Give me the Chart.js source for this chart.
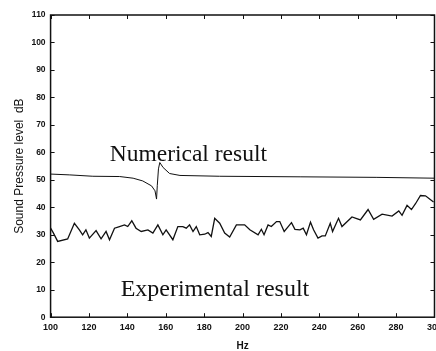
<!DOCTYPE html>
<html>
<head>
<meta charset="utf-8">
<script src="https://cdn.jsdelivr.net/npm/chart.js@4/dist/chart.umd.min.js"></script>
<style>
  html, body { margin:0; padding:0; background:#fff; overflow:hidden; }
  #wrap { position:relative; width:447px; height:351px; }
</style>
</head>
<body>
<div id="wrap"><canvas id="c"></canvas></div>
<script>
// ---- data ----
const expHz = [100, 101.5, 103.7, 108.9, 112.4, 115, 116.7, 118.4, 120.2, 123.7,
               126.3, 128.9, 130.7, 133.3, 135.9, 138.5, 140.2, 142.3, 144.5, 147.2,
               150.7, 153.3, 155.9, 158.5, 160.2, 163.7, 166.3, 168.9, 170.7, 172.4,
               174.2, 175.9, 177.7, 180.3, 182, 183.7, 185.5, 188.1, 190.7, 193.3,
               196.8, 201.1, 203.8, 208.1, 209.8, 211.2, 213.3, 215, 217.7, 219.4,
               221.7, 223.8, 225.5, 227.3, 229.9, 231.6, 233.3, 235.4, 237, 239.3,
               241.4, 243.1, 245.7, 246.9, 250, 251.8, 257, 261.4, 265.4, 268.3,
               272.7, 277.9, 281.4, 283.1, 285.7, 288, 290.1, 292.7, 295.3, 299.5];
const expDb = [32.4, 30.6, 27.6, 28.5, 34.2, 31.8, 30, 31.8, 28.8, 31.5,
               28.5, 31.2, 28.2, 32.4, 33, 33.6, 33, 35.1, 32.4, 31.2,
               31.8, 30.6, 33.6, 30, 31.8, 28.2, 33, 33, 32.4, 33.6,
               31.2, 33, 30, 30.2, 30.8, 29.4, 36, 34.2, 30.6, 29.2,
               33.6, 33.6, 31.8, 30, 32, 30, 33.6, 33, 34.8, 34.8,
               31.2, 33, 34.4, 32, 31.8, 32.4, 30, 34.6, 31.8, 28.8,
               29.6, 29.6, 34.2, 31.2, 36, 33, 36.5, 35.4, 39.2, 35.6,
               37.5, 36.8, 38.7, 37.1, 40.7, 39.2, 41.3, 44.3, 44.2, 41.9];
const numHz = [100, 110, 122, 136, 143, 148, 152.6, 154.4, 155.2, 155.6, 156.2, 156.9,
               158.6, 162, 167.4, 188, 230, 270, 300];
const numDb = [52.1, 51.8, 51.3, 51.2, 50.6, 49.6, 47.8, 46, 43, 48, 54, 56.3,
               54.5, 52.3, 51.6, 51.3, 51.1, 50.9, 50.6];
const xTickValues = [100, 120, 140, 160, 180, 200, 220, 240, 260, 280, 300];
const yTickValues = [0, 10, 20, 30, 40, 50, 60, 70, 80, 90, 100, 110];
const labelNumerical = "Numerical result";
const labelExperimental = "Experimental result";
const xTitle = "Hz";
const yTitle = "Sound Pressure level  dB";

const toPts = (xs, ys) => xs.map((v, i) => ({ x: v, y: ys[i] }));

const framePlugin = {
  id: 'frame',
  afterDraw(chart) {
    const { ctx, chartArea: a, scales: { x, y } } = chart;
    ctx.save();
    ctx.strokeStyle = '#111';
    ctx.lineWidth = 1.5;
    ctx.strokeRect(a.left, a.top, a.right - a.left, a.bottom - a.top);
    ctx.lineWidth = 1;
    ctx.beginPath();
    xTickValues.forEach(v => {
      const px = Math.round(x.getPixelForValue(v)) + 0.5;
      ctx.moveTo(px, a.bottom); ctx.lineTo(px, a.bottom - 4);
      ctx.moveTo(px, a.top); ctx.lineTo(px, a.top + 4);
    });
    yTickValues.forEach(v => {
      const py = Math.round(y.getPixelForValue(v)) + 0.5;
      ctx.moveTo(a.left, py); ctx.lineTo(a.left + 4, py);
      ctx.moveTo(a.right, py); ctx.lineTo(a.right - 4, py);
    });
    ctx.stroke();
    ctx.fillStyle = '#111';
    ctx.textBaseline = 'alphabetic';
    ctx.textAlign = 'left';
    ctx.font = '23.5px "Liberation Serif"';
    ctx.fillText(labelNumerical, x.getPixelForValue(130.8), y.getPixelForValue(56.7));
    ctx.font = '24px "Liberation Serif"';
    ctx.fillText(labelExperimental, x.getPixelForValue(136.5), y.getPixelForValue(7.8));
    ctx.restore();
  }
};

new Chart(document.getElementById('c'), {
  type: 'line',
  data: {
    datasets: [
      { data: toPts(numHz, numDb), borderColor: '#111', borderWidth: 1, pointRadius: 0, tension: 0, fill: false },
      { data: toPts(expHz, expDb), borderColor: '#111', borderWidth: 1.3, pointRadius: 0, tension: 0, fill: false }
    ]
  },
  options: {
    responsive: true,
    maintainAspectRatio: false,
    animation: false,
    devicePixelRatio: 1,
    layout: { padding: { left: 8, top: 15, right: 0, bottom: 0 } },
    plugins: { legend: { display: false }, tooltip: { enabled: false } },
    scales: {
      x: {
        type: 'linear', min: 100, max: 300,
        grid: { display: false, drawTicks: false },
        border: { display: false },
        ticks: { stepSize: 20, color: '#111', padding: 5, maxRotation: 0,
                 font: { family: 'Liberation Sans', weight: 'bold', size: 9 } },
        title: { display: true, text: xTitle, color: '#111', padding: { top: 3, bottom: 0 },
                 font: { family: 'Liberation Sans', weight: 'bold', size: 10, lineHeight: 1 } }
      },
      y: {
        type: 'linear', min: 0, max: 110,
        grid: { display: false, drawTicks: false },
        border: { display: false },
        ticks: { stepSize: 10, color: '#111', padding: 5,
                 font: { family: 'Liberation Sans', weight: 'bold', size: 8.5 } },
        title: { display: true, text: yTitle, color: '#111', padding: { top: 4, bottom: 0 },
                 font: { family: 'Liberation Sans', size: 12 } }
      }
    }
  },
  plugins: [framePlugin]
});
</script>
</body>
</html>
